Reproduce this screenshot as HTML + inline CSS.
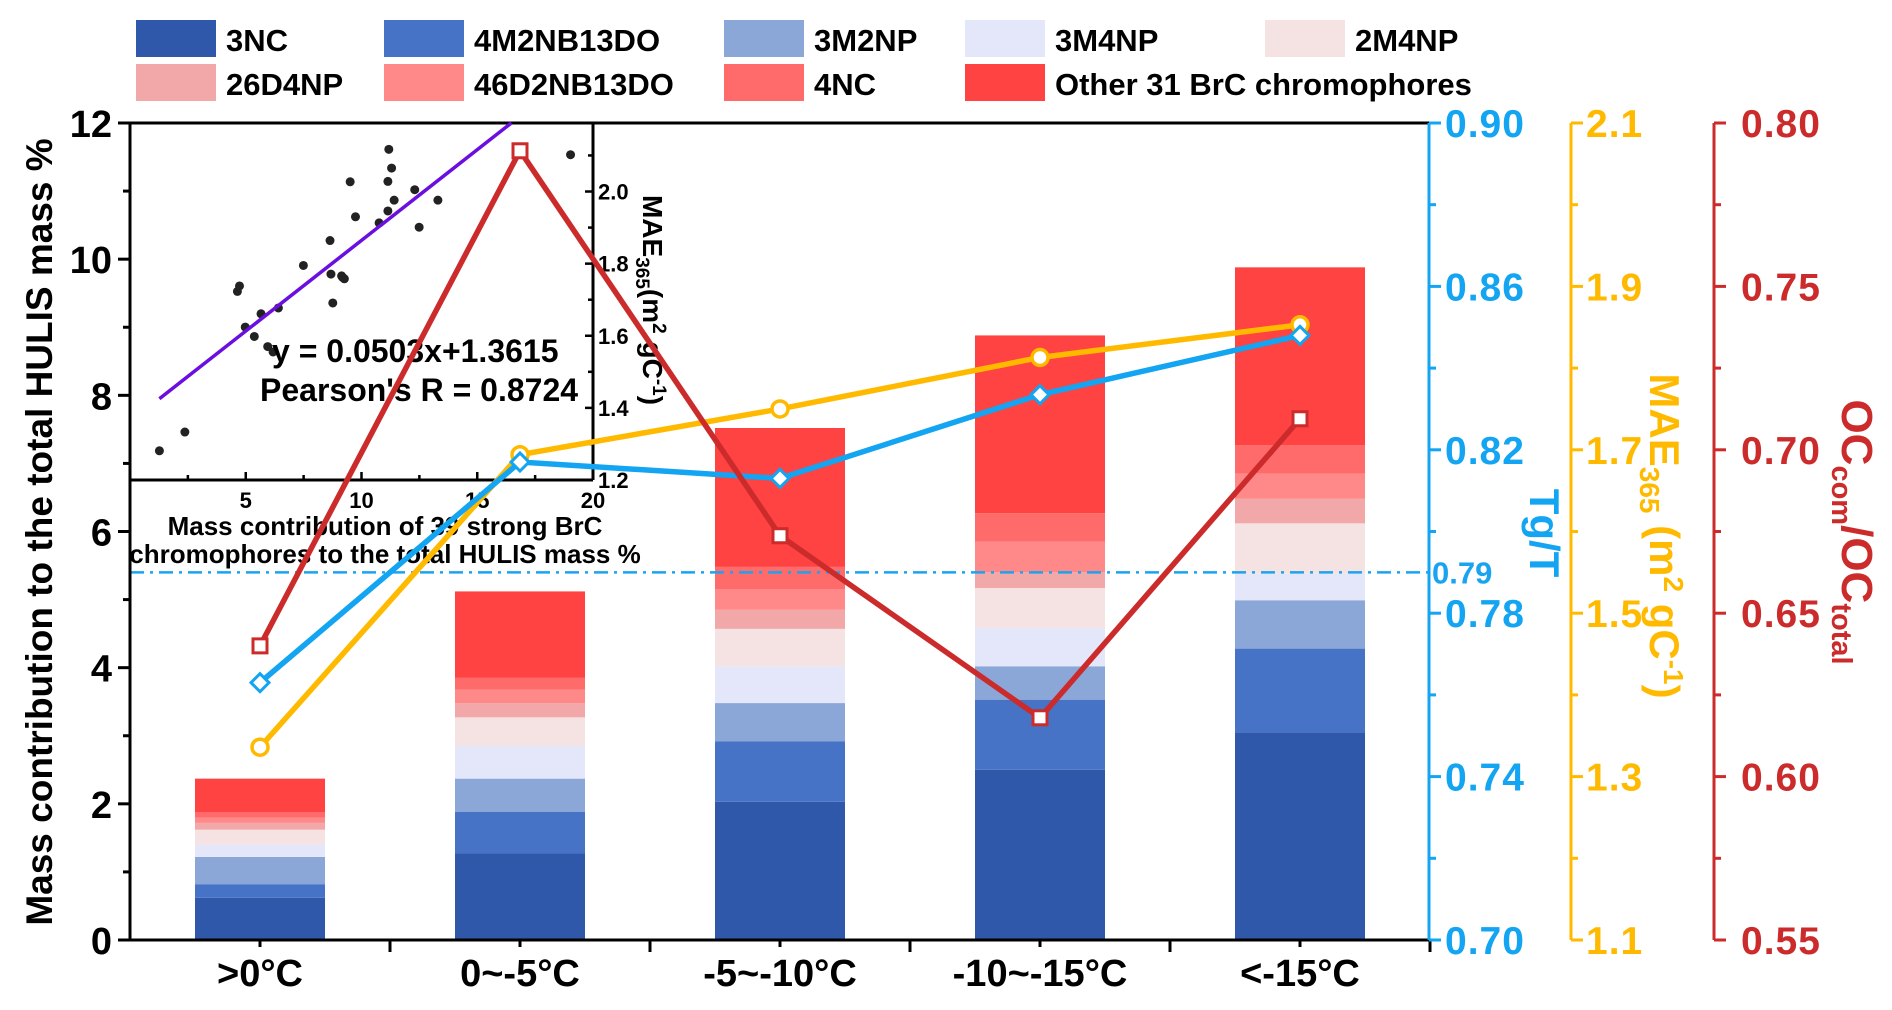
<!DOCTYPE html>
<html><head><meta charset="utf-8"><style>
html,body{margin:0;padding:0;background:#fff}
svg{display:block;font-family:"Liberation Sans",Arial,sans-serif;font-weight:bold}
</style></head><body>
<svg id="c" width="1892" height="1010" viewBox="0 0 1892 1010" xmlns="http://www.w3.org/2000/svg"></svg>
<script>
const categories=[">0°C","0~-5°C","-5~-10°C","-10~-15°C","<-15°C"];
const seriesNames=["3NC","4M2NB13DO","3M2NP","3M4NP","2M4NP","26D4NP","46D2NB13DO","4NC","Other 31 BrC chromophores"];
const seriesColors=["#2F58AA","#4673C6","#8AA7D8","#E4E6FA","#F5E2E2","#F2A8A8","#FF8888","#FF6B6B","#FF4242"];
const s3NC=[0.62,1.27,2.03,2.50,3.05];
const s4M2NB13DO=[0.20,0.61,0.89,1.03,1.23];
const s3M2NP=[0.40,0.49,0.56,0.49,0.71];
const s3M4NP=[0.18,0.48,0.54,0.56,0.39];
const s2M4NP=[0.22,0.42,0.55,0.59,0.74];
const s26D4NP=[0.10,0.21,0.28,0.23,0.36];
const s46D2NB13DO=[0.08,0.20,0.30,0.45,0.37];
const s4NC=[0.08,0.17,0.33,0.42,0.42];
const sOther=[0.49,1.27,2.04,2.61,2.61];
const tgT=[0.763,0.817,0.813,0.8335,0.848];
const mae365=[1.336,1.694,1.750,1.813,1.853];
const ocRatio=[0.640,0.7915,0.6737,0.618,0.7095];
const insetX=[1.27,2.37,4.64,4.73,4.98,5.37,5.66,5.95,6.18,6.41,7.49,8.64,8.68,8.76,9.14,9.26,9.18,9.51,9.74,10.76,11.14,11.14,11.18,11.30,11.41,12.30,12.49,13.30,19.03];
const insetY=[1.281,1.333,1.723,1.738,1.624,1.598,1.661,1.570,1.555,1.677,1.795,1.864,1.771,1.691,1.766,1.758,1.762,2.027,1.930,1.913,1.946,2.028,2.117,2.065,1.976,2.005,1.901,1.976,2.102];
const leftTicks=[0,2,4,6,8,10,12];
const tgTicks=["0.70","0.74","0.78","0.82","0.86","0.90"];
const maeTicks=["1.1","1.3","1.5","1.7","1.9","2.1"];
const ocTicks=["0.55","0.60","0.65","0.70","0.75","0.80"];
const insetXTicks=[5,10,15,20];
const insetYTicks=["1.2","1.4","1.6","1.8","2.0"];
const fitSlope=0.0503, fitIntercept=1.3615, tgThreshold=0.79;

const svg=document.getElementById('c');
const NS="http://www.w3.org/2000/svg";
function mk(tag,attrs,parent){const e=document.createElementNS(NS,tag);for(const k in attrs)e.setAttribute(k,attrs[k]);(parent||svg).appendChild(e);return e;}
const X0=130,X1=1430,Y0=940,Y1=123;
const band=(X1-X0)/categories.length;
const xC=i=>X0+band*(i+0.5);
const yL=v=>Y0-(v/12)*(Y0-Y1);
const yTg=v=>Y0-(v-0.70)/0.20*(Y0-Y1);
const yMae=v=>Y0-(v-1.1)/1.0*(Y0-Y1);
const yOc=v=>Y0-(v-0.55)/0.25*(Y0-Y1);
const IX0=130,IX1=593,IY0=480,IY1=123;
const ix=v=>IX0+(v/20)*(IX1-IX0);
const iy=v=>IY0-(v-1.2)/0.99*(IY0-IY1);

// legend
const legPos=[[136,20],[384,20],[724,20],[965,20],[1265,20],[136,64],[384,64],[724,64],[965,64]];
seriesNames.forEach((n,i)=>{
  const g=mk('g',{});
  
  
  mk('rect',{x:legPos[i][0],y:legPos[i][1],width:80,height:37,fill:seriesColors[i]},g);
  const t=mk('text',{x:legPos[i][0]+90,y:legPos[i][1]+31,'font-size':31,fill:'#000'},g);t.textContent=n;
});

// bars
const stacks=[s3NC,s4M2NB13DO,s3M2NP,s3M4NP,s2M4NP,s26D4NP,s46D2NB13DO,s4NC,sOther];
categories.forEach((c,i)=>{
  let base=0;
  stacks.forEach((s,k)=>{
    const r=mk('rect',{x:xC(i)-65,y:yL(base+s[i]),width:130,height:yL(base)-yL(base+s[i]),fill:seriesColors[k]});
    
    
    base+=s[i];
  });
});

// threshold line
const th=mk('line',{x1:X0,x2:X1,y1:yTg(tgThreshold),y2:yTg(tgThreshold),stroke:'#1AA3F0','stroke-width':2.5,'stroke-dasharray':'14 6 3 6'});


const tht=mk('text',{x:1432,y:yTg(tgThreshold)+11,'font-size':31,fill:'#1AA3F0'});tht.textContent="0.79";



// main axes
mk('line',{x1:X0,x2:X1,y1:Y1,y2:Y1,stroke:'#000','stroke-width':3});
mk('line',{x1:X0,x2:X1,y1:Y0,y2:Y0,stroke:'#000','stroke-width':3});
mk('line',{x1:X0,x2:X0,y1:Y1,y2:Y0,stroke:'#000','stroke-width':3});
leftTicks.forEach(v=>{
  mk('line',{x1:X0-12,x2:X0,y1:yL(v),y2:yL(v),stroke:'#000','stroke-width':3});
  if(v<12) mk('line',{x1:X0-7,x2:X0,y1:yL(v+1),y2:yL(v+1),stroke:'#000','stroke-width':3});
  const t=mk('text',{x:X0-18,y:yL(v)+14,'font-size':38,'text-anchor':'end',fill:'#000'});t.textContent=v;
  
  
});
categories.forEach((c,i)=>{
  mk('line',{x1:X0+band*(i+1),x2:X0+band*(i+1),y1:Y0,y2:Y0+12,stroke:'#000','stroke-width':3});
  mk('line',{x1:xC(i),x2:xC(i),y1:Y0,y2:Y0+7,stroke:'#000','stroke-width':3});
  const t=mk('text',{x:xC(i),y:986,'font-size':38,'text-anchor':'middle',fill:'#000'});t.textContent=c;
  
  
});
const yt=mk('text',{transform:'translate(52,532) rotate(-90)','font-size':37,'text-anchor':'middle',fill:'#000'});
yt.textContent="Mass contribution to the total HULIS mass %";



// right axes
function rightAxis(x,color,labels,yf,lx,name){
  mk('line',{x1:x,x2:x,y1:Y1,y2:Y0,stroke:color,'stroke-width':3});
  labels.forEach((l,i)=>{
    const v=parseFloat(l);
    mk('line',{x1:x,x2:x+12,y1:yf(v),y2:yf(v),stroke:color,'stroke-width':3});
    if(i<labels.length-1){const v2=(v+parseFloat(labels[i+1]))/2;mk('line',{x1:x,x2:x+7,y1:yf(v2),y2:yf(v2),stroke:color,'stroke-width':3});}
    const t=mk('text',{x:lx,y:yf(v)+14,'font-size':39,fill:color,'letter-spacing':'1'});t.textContent=l;
    
    
  });
}
rightAxis(1429,'#13A4F2',tgTicks,yTg,1445,'tg');
rightAxis(1571,'#FFBA00',maeTicks,yMae,1586,'mae');
rightAxis(1714,'#CC2B2B',ocTicks,yOc,1741,'oc');
const t1=mk('text',{transform:'translate(1530,533) rotate(90)','font-size':42,'text-anchor':'middle',fill:'#13A4F2'});t1.textContent="Tg/T";

const t2=mk('text',{transform:'translate(1650,536) rotate(90)','font-size':42,'text-anchor':'middle',fill:'#FFBA00'});
t2.innerHTML='MAE<tspan font-size="28" dy="10">365</tspan><tspan dy="-10"> (m</tspan><tspan font-size="28" dy="-14">2</tspan><tspan dy="14"> gC</tspan><tspan font-size="28" dy="-14">-1</tspan><tspan dy="14">)</tspan>';

const t3=mk('text',{transform:'translate(1842,532) rotate(90)','font-size':44,'text-anchor':'middle',fill:'#CC2B2B'});
t3.innerHTML='OC<tspan font-size="29" dy="10">com</tspan><tspan dy="-10">/OC</tspan><tspan font-size="29" dy="10">total</tspan>';


// inset
const ig=mk('g',{});


mk('line',{x1:IX0,x2:IX1,y1:IY0,y2:IY0,stroke:'#000','stroke-width':3},ig);
mk('line',{x1:IX1,x2:IX1,y1:IY1,y2:IY0,stroke:'#000','stroke-width':3},ig);
insetXTicks.forEach(v=>{
  mk('line',{x1:ix(v),x2:ix(v),y1:IY0,y2:IY0-8,stroke:'#000','stroke-width':2.5},ig);
  mk('line',{x1:ix(v-2.5),x2:ix(v-2.5),y1:IY0,y2:IY0-5,stroke:'#000','stroke-width':2.5},ig);
  const t=mk('text',{x:ix(v),y:508,'font-size':22,'text-anchor':'middle',fill:'#000'},ig);t.textContent=v;
});
insetYTicks.forEach(l=>{
  const v=parseFloat(l);
  mk('line',{x1:IX1-8,x2:IX1,y1:iy(v),y2:iy(v),stroke:'#000','stroke-width':2.5},ig);
  mk('line',{x1:IX1-5,x2:IX1,y1:iy(v+0.1),y2:iy(v+0.1),stroke:'#000','stroke-width':2.5},ig);
  const t=mk('text',{x:IX1+5,y:iy(v)+8,'font-size':22,fill:'#000'},ig);t.textContent=l;
});
const it=mk('text',{transform:'translate(643,300) rotate(90)','font-size':28,'text-anchor':'middle',fill:'#000'},ig);
it.innerHTML='MAE<tspan font-size="19" dy="7">365</tspan><tspan dy="-7">(m</tspan><tspan font-size="19" dy="-10">2</tspan><tspan dy="10"> gC</tspan><tspan font-size="19" dy="-10">-1</tspan><tspan dy="10">)</tspan>';
const xl1=mk('text',{x:385,y:535,'font-size':26,'text-anchor':'middle',fill:'#000'},ig);xl1.textContent="Mass contribution of 39 strong BrC";
const xl2=mk('text',{x:385,y:563,'font-size':26,'text-anchor':'middle',fill:'#000'},ig);xl2.textContent="chromophores to the total HULIS mass %";
insetX.forEach((x,i)=>{
  const c=mk('circle',{cx:ix(x),cy:iy(insetY[i]),r:4.5,fill:'#222'},ig);
  
  
});
const xEnd=(2.19-fitIntercept)/fitSlope;
const fl=mk('line',{x1:ix(1.27),y1:iy(fitSlope*1.27+fitIntercept),x2:ix(xEnd),y2:iy(fitSlope*xEnd+fitIntercept),stroke:'#6A0FE0','stroke-width':3.5},ig);


const e1=mk('text',{x:272,y:362,'font-size':32,fill:'#000'},ig);e1.textContent="y = 0.0503x+1.3615";
const e2=mk('text',{x:260,y:401,'font-size':32,fill:'#000'},ig);e2.textContent="Pearson's R = 0.8724";

// lines
function series(vals,yf,color,marker,name){
  const g=mk('g',{});
  
  
  mk('polyline',{points:vals.map((v,i)=>xC(i)+','+yf(v)).join(' '),fill:'none',stroke:color,'stroke-width':5.5},g);
  vals.forEach((v,i)=>{
    const x=xC(i),y=yf(v);let m;
    if(marker==='d') m=mk('polygon',{points:`${x},${y-9} ${x+9},${y} ${x},${y+9} ${x-9},${y}`,fill:'#fff',stroke:color,'stroke-width':3},g);
    else if(marker==='c') m=mk('circle',{cx:x,cy:y,r:8,fill:'#fff',stroke:color,'stroke-width':3.5},g);
    else m=mk('rect',{x:x-7,y:y-7,width:14,height:14,fill:'#fff',stroke:color,'stroke-width':3},g);
    
    
  });
}
series(mae365,yMae,'#FFBA00','c','mae365');
series(tgT,yTg,'#13A4F2','d','tg-t');
series(ocRatio,yOc,'#CC2B2B','s','oc-ratio');
</script>
</body></html>
